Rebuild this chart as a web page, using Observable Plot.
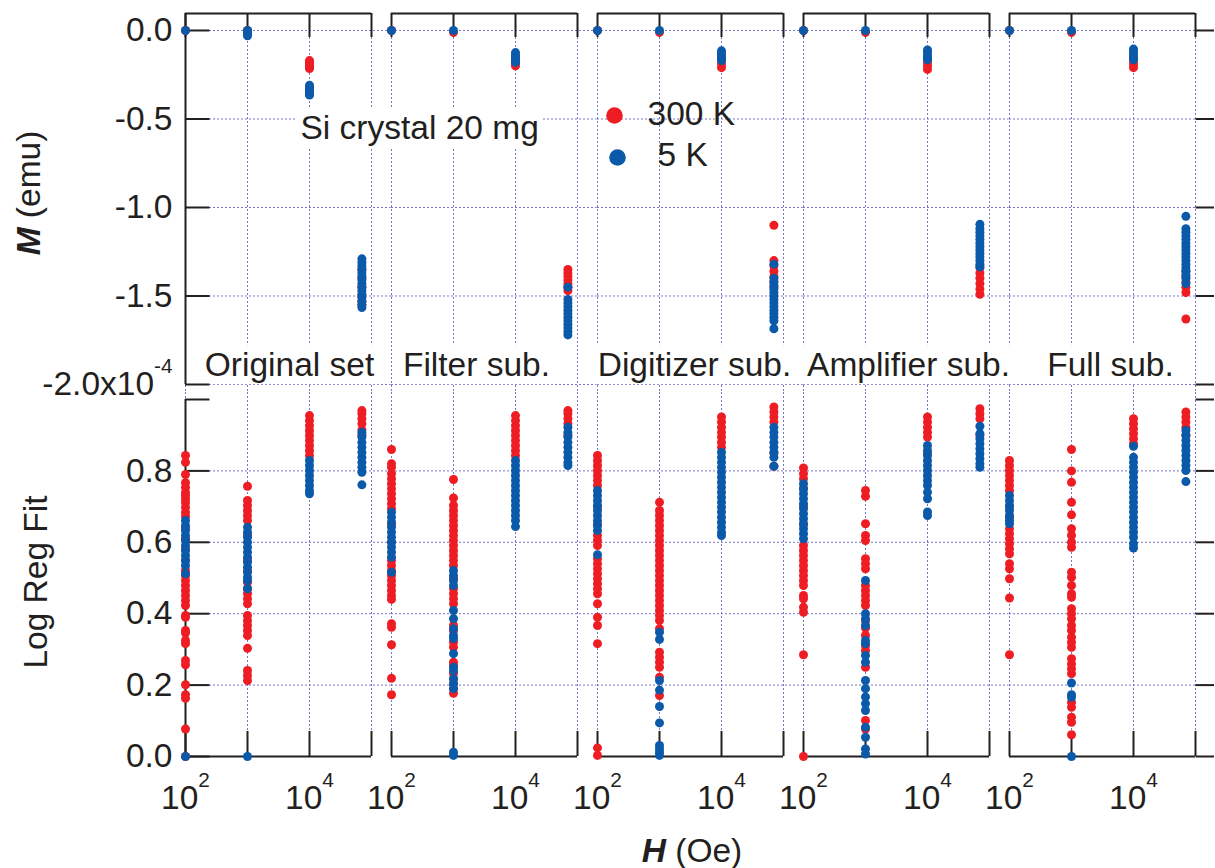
<!DOCTYPE html>
<html><head><meta charset="utf-8">
<script src="https://cdn.jsdelivr.net/npm/d3@7"></script>
<script src="https://cdn.jsdelivr.net/npm/@observablehq/plot@0.6"></script>
<style>
body{margin:0;background:#fff;}
#chart{position:relative;width:1215px;height:868px;font-family:'Liberation Sans',Arial,Helvetica,sans-serif;color:#231f20;}
#chart svg{position:absolute;left:0;}
.vt{position:absolute;font-size:33.5px;line-height:33.5px;white-space:nowrap;transform:translate(-50%,-50%) rotate(-90deg);}
.ht{position:absolute;font-size:33.5px;line-height:33.5px;white-space:nowrap;transform:translate(-50%,-50%);}
</style></head><body><div id="chart"></div>
<script>
// ---------- categories / ticks ----------
const methods = ["Original set", "Filter sub.", "Digitizer sub.", "Amplifier sub.", "Full sub."];
const fieldsOe = [100, 1000, 10000, 70000];
const temps = ["300 K", "5 K"];
const mTicks = [0, -0.5, -1.0, -1.5, -2.0];
const fitTicks = [0, 0.2, 0.4, 0.6, 0.8, 1.0];
const fitLabelTicks = [0, 0.2, 0.4, 0.6, 0.8];
const fitGridTicks = [0.2, 0.4, 0.6, 0.8];
const decades = [100, 1000, 10000, 100000];
const xLabelTicks = [100, 10000];

// ---------- M (x1e-4 emu), per field [100, 1000, 1e4, 7e4] ----------
const mOriginal300 = [[0], [0, -0.01, -0.02], [-0.17, -0.18, -0.19, -0.2, -0.21, -0.215], [-1.35, -1.4, -1.45, -1.5, -1.53, -1.55]];
const mOriginal5 = [[0], [0, -0.01, -0.02, -0.03], [-0.31, -0.32, -0.33, -0.34, -0.35, -0.36, -0.365], [-1.29, -1.31, -1.33, -1.35, -1.37, -1.39, -1.41, -1.43, -1.45, -1.47, -1.49, -1.51, -1.53, -1.55, -1.565]];
const mFilter300 = [[0], [-0.01], [-0.15, -0.17, -0.19, -0.2], [-1.35, -1.37, -1.39, -1.41, -1.43, -1.45, -1.47]];
const mFilter5 = [[0], [0], [-0.125, -0.14, -0.155, -0.17, -0.18], [-1.45, -1.52, -1.54, -1.56, -1.58, -1.6, -1.62, -1.64, -1.66, -1.68, -1.7, -1.72]];
const mDigitizer300 = [[0], [-0.01], [-0.15, -0.17, -0.19, -0.21], [-1.1, -1.3, -1.33, -1.36, -1.39, -1.42, -1.45]];
const mDigitizer5 = [[0], [0], [-0.115, -0.13, -0.145, -0.16, -0.17], [-1.32, -1.4, -1.42, -1.44, -1.46, -1.48, -1.5, -1.52, -1.54, -1.56, -1.58, -1.6, -1.62, -1.64, -1.685]];
const mAmplifier300 = [[0], [-0.01], [-0.16, -0.18, -0.2, -0.22], [-1.34, -1.37, -1.4, -1.43, -1.46, -1.49]];
const mAmplifier5 = [[0], [0], [-0.11, -0.125, -0.14, -0.155, -0.165], [-1.095, -1.12, -1.14, -1.16, -1.18, -1.2, -1.22, -1.24, -1.26, -1.28, -1.3, -1.32, -1.335]];
const mFull300 = [[0], [-0.01], [-0.15, -0.17, -0.19, -0.21], [-1.36, -1.39, -1.42, -1.45, -1.48, -1.63]];
const mFull5 = [[0], [0], [-0.105, -0.12, -0.135, -0.15, -0.165], [-1.05, -1.12, -1.14, -1.16, -1.18, -1.2, -1.22, -1.24, -1.26, -1.28, -1.3, -1.32, -1.34, -1.36, -1.38, -1.4, -1.43]];

// ---------- Log Reg Fit, per field [100, 1000, 1e4, 7e4] ----------
const fitOriginal300 = [
  [0, 0.077, 0.163, 0.173, 0.201, 0.257, 0.269, 0.316, 0.325, 0.346, 0.353, 0.39, 0.395, 0.423, 0.437, 0.451, 0.465, 0.479, 0.493, 0.507, 0.521, 0.55, 0.58, 0.61, 0.64, 0.673, 0.684, 0.698, 0.711, 0.722, 0.731, 0.74, 0.754, 0.767, 0.79, 0.824, 0.843],
  [0.213, 0.227, 0.241, 0.303, 0.339, 0.353, 0.367, 0.381, 0.395, 0.428, 0.442, 0.456, 0.47, 0.488, 0.52, 0.55, 0.62, 0.661, 0.675, 0.689, 0.703, 0.717, 0.757],
  [0.843, 0.857, 0.871, 0.885, 0.899, 0.913, 0.927, 0.941, 0.955],
  [0.9, 0.915, 0.932, 0.946, 0.96, 0.969]
];
const fitOriginal5 = [
  [0, 0.512, 0.535, 0.549, 0.563, 0.577, 0.591, 0.605, 0.619, 0.633, 0.647, 0.661],
  [0, 0.47, 0.493, 0.502, 0.516, 0.53, 0.544, 0.558, 0.572, 0.586, 0.6, 0.614, 0.628, 0.642],
  [0.736, 0.745, 0.759, 0.773, 0.787, 0.801, 0.815, 0.829],
  [0.761, 0.796, 0.81, 0.824, 0.838, 0.852, 0.866, 0.88, 0.895, 0.908]
];
const fitFilter300 = [
  [0.173, 0.219, 0.313, 0.362, 0.372, 0.44, 0.451, 0.465, 0.479, 0.493, 0.507, 0.521, 0.535, 0.549, 0.6, 0.65, 0.694, 0.708, 0.722, 0.736, 0.75, 0.764, 0.778, 0.792, 0.81, 0.82, 0.86],
  [0.177, 0.19, 0.204, 0.218, 0.233, 0.255, 0.264, 0.306, 0.32, 0.353, 0.367, 0.428, 0.442, 0.456, 0.47, 0.5, 0.535, 0.549, 0.563, 0.577, 0.591, 0.605, 0.619, 0.633, 0.647, 0.661, 0.675, 0.689, 0.703, 0.724, 0.776],
  [0.843, 0.857, 0.871, 0.885, 0.899, 0.913, 0.927, 0.941, 0.955],
  [0.9, 0.932, 0.946, 0.96, 0.969]
];
const fitFilter5 = [
  [0.516, 0.558, 0.572, 0.586, 0.6, 0.614, 0.628, 0.642, 0.656, 0.67, 0.684],
  [0.003, 0.012, 0.19, 0.204, 0.218, 0.241, 0.25, 0.288, 0.33, 0.339, 0.358, 0.386, 0.409, 0.479, 0.493, 0.507, 0.521],
  [0.644, 0.661, 0.675, 0.689, 0.703, 0.717, 0.731, 0.745, 0.759, 0.773, 0.787, 0.801, 0.815, 0.829],
  [0.815, 0.824, 0.838, 0.852, 0.866, 0.88, 0.895, 0.908, 0.922]
];
const fitDigitizer300 = [
  [0.003, 0.024, 0.316, 0.367, 0.39, 0.428, 0.456, 0.47, 0.484, 0.498, 0.512, 0.526, 0.54, 0.554, 0.591, 0.605, 0.619, 0.65, 0.7, 0.759, 0.773, 0.787, 0.801, 0.815, 0.829, 0.843],
  [0.171, 0.222, 0.25, 0.264, 0.278, 0.292, 0.358, 0.381, 0.395, 0.409, 0.423, 0.437, 0.451, 0.465, 0.479, 0.493, 0.507, 0.521, 0.535, 0.549, 0.563, 0.577, 0.591, 0.605, 0.619, 0.633, 0.647, 0.661, 0.675, 0.689, 0.712],
  [0.866, 0.88, 0.895, 0.908, 0.922, 0.937, 0.951],
  [0.813, 0.85, 0.937, 0.951, 0.965, 0.979]
];
const fitDigitizer5 = [
  [0.565, 0.633, 0.647, 0.661, 0.675, 0.689, 0.703, 0.717, 0.731, 0.745],
  [0.003, 0.012, 0.021, 0.031, 0.094, 0.14, 0.186, 0.213, 0.328, 0.348],
  [0.619, 0.628, 0.642, 0.656, 0.67, 0.685, 0.698, 0.712, 0.726, 0.74, 0.754, 0.768, 0.782, 0.796, 0.81, 0.824, 0.838, 0.852],
  [0.813, 0.838, 0.852, 0.866, 0.88, 0.895, 0.908, 0.922]
];
const fitAmplifier300 = [
  [0, 0.285, 0.404, 0.418, 0.442, 0.451, 0.479, 0.493, 0.507, 0.521, 0.535, 0.549, 0.563, 0.577, 0.591, 0.65, 0.7, 0.75, 0.778, 0.792, 0.808],
  [0.077, 0.101, 0.25, 0.297, 0.311, 0.339, 0.36, 0.38, 0.423, 0.437, 0.451, 0.465, 0.479, 0.526, 0.54, 0.554, 0.605, 0.619, 0.652, 0.729, 0.745],
  [0.85, 0.895, 0.908, 0.922, 0.937, 0.951],
  [0.9, 0.946, 0.96, 0.974]
];
const fitAmplifier5 = [
  [0.61, 0.624, 0.638, 0.652, 0.666, 0.68, 0.694, 0.708, 0.722, 0.736, 0.75, 0.764],
  [0.007, 0.021, 0.054, 0.082, 0.129, 0.148, 0.167, 0.19, 0.213, 0.264, 0.283, 0.316, 0.325, 0.367, 0.386, 0.4, 0.493],
  [0.675, 0.685, 0.722, 0.74, 0.759, 0.773, 0.787, 0.801, 0.815, 0.829, 0.843, 0.857, 0.871],
  [0.81, 0.82, 0.834, 0.848, 0.862, 0.876, 0.89, 0.904, 0.925]
];
const fitFull300 = [
  [0.285, 0.444, 0.498, 0.526, 0.54, 0.568, 0.582, 0.596, 0.61, 0.624, 0.638, 0.67, 0.7, 0.745, 0.759, 0.773, 0.787, 0.801, 0.815, 0.829],
  [0.061, 0.096, 0.11, 0.138, 0.152, 0.232, 0.246, 0.259, 0.274, 0.306, 0.32, 0.334, 0.353, 0.367, 0.386, 0.4, 0.414, 0.446, 0.456, 0.479, 0.502, 0.516, 0.586, 0.6, 0.619, 0.638, 0.677, 0.712, 0.768, 0.8, 0.86],
  [0.876, 0.89, 0.904, 0.918, 0.932, 0.946],
  [0.9, 0.922, 0.937, 0.951, 0.965]
];
const fitFull5 = [
  [0.652, 0.661, 0.675, 0.689, 0.703, 0.717, 0.731],
  [0, 0.166, 0.173, 0.206],
  [0.584, 0.596, 0.614, 0.628, 0.642, 0.656, 0.67, 0.685, 0.698, 0.712, 0.726, 0.74, 0.754, 0.768, 0.782, 0.796, 0.81, 0.824, 0.838, 0.869],
  [0.77, 0.801, 0.815, 0.829, 0.843, 0.857, 0.871, 0.885, 0.899, 0.913]
];

// ---------- build tables (all 300 K rows first, so 5 K is drawn on top) ----------
function buildRows(sets) {
  const rows = [];
  temps.forEach((t, ti) => methods.forEach((m, mi) =>
    sets[ti][mi].forEach((vals, fi) => vals.forEach(v =>
      rows.push({method: m, temp: t, H: fieldsOe[fi], value: v})))));
  return rows;
}
const mRows = buildRows([
  [mOriginal300, mFilter300, mDigitizer300, mAmplifier300, mFull300],
  [mOriginal5, mFilter5, mDigitizer5, mAmplifier5, mFull5]]);
const fitRows = buildRows([
  [fitOriginal300, fitFilter300, fitDigitizer300, fitAmplifier300, fitFull300],
  [fitOriginal5, fitFilter5, fitDigitizer5, fitAmplifier5, fitFull5]]);

// ---------- layout ----------
const W = 1215, ML = 185, MR = 19, PAD = 0.095;
const innerW = W - ML - MR;
const step = innerW / (methods.length - PAD);
const bw = step * (1 - PAD), gap = step * PAD;
const H1 = 392, MT1 = 13, innerH1 = H1 - MT1;
const H2 = 476, MB2 = 112, innerH2 = H2 - MB2;
const yDom1 = [-2.0452, 0.096];
const yDom2 = [0, 1.0196];
const ink = "#231f20", gridC = "#7676c8";
const red = "#ee1d24", blue = "#0b5aaa";
const R = 4.5;
const titleDx = [11, -8, 4, 12, 8];
const grid = {stroke: gridC, strokeWidth: 1, strokeDasharray: "2,2"};
const axisS = {stroke: ink, strokeWidth: 2};
const first = () => methods[0], last = () => methods[methods.length - 1];
const style = {fontFamily: "'Liberation Sans', Arial, Helvetica, sans-serif", fontSize: "33.5px", color: ink, background: "transparent", overflow: "visible"};
const colorOpt = {domain: temps, range: [red, blue]};
const fxOpt = {domain: methods, paddingInner: PAD, paddingOuter: 0, axis: null};
const gridRowsFor = (ticks) => methods.slice(0, -1).flatMap(m => ticks.map(v => ({m, v})));

const topPlot = Plot.plot({
  width: W, height: H1, marginLeft: ML, marginRight: MR, marginTop: MT1, marginBottom: 0,
  style, fx: fxOpt,
  x: {type: "log", domain: [100, 100000], axis: null},
  y: {domain: yDom1},
  color: colorOpt,
  marks: [
    Plot.ruleX(decades, {x: d => d, ...grid}),
    Plot.ruleY(gridRowsFor(mTicks), {fx: "m", y: "v", ...grid, insetRight: -gap}),
    Plot.ruleY(mTicks, {fx: last, y: d => d, ...grid}),
    ...methods.map((m, i) => Plot.text([m], {fx: d => d, text: d => d, frameAnchor: "bottom", dx: titleDx[i], dy: -27, lineAnchor: "middle", fill: ink})),
    Plot.text(["Si crystal 20 mg"], {fx: first, text: d => d, frameAnchor: "top-left", dx: 115, dy: 115, textAnchor: "start", lineAnchor: "middle", fill: ink}),
    Plot.ruleY([yDom1[1]], {...axisS}),
    Plot.ruleX([100], {fx: first, y1: -2, y2: yDom1[1], ...axisS}),
    Plot.tickX(decades, {x: d => d, insetBottom: innerH1 - 24, ...axisS}),
    Plot.tickY(mTicks, {fx: first, y: d => d, insetRight: bw - 25, ...axisS}),
    Plot.tickY(mTicks, {fx: last, y: d => d, insetLeft: bw, insetRight: -MR, ...axisS}),
    Plot.axisY({ticks: mTicks, tickSize: 0, tickPadding: 13, label: null,
      tickFormat: d => d === -2 ? "-2.0x10^-4" : d.toFixed(1)}),
    Plot.dot(mRows, {fx: "method", x: "H", y: "value", fill: "temp", r: R}),
    // legend
    Plot.dot([temps[0]], {fx: () => methods[2], fill: d => d, r: 8.3, frameAnchor: "top-left", dx: 17, dy: 102}),
    Plot.dot([temps[1]], {fx: () => methods[2], fill: d => d, r: 8.3, frameAnchor: "top-left", dx: 20, dy: 144}),
    Plot.text([temps[0]], {fx: () => methods[2], text: d => d, frameAnchor: "top-left", dx: 50, dy: 101, textAnchor: "start", lineAnchor: "middle", fill: ink}),
    Plot.text([temps[1]], {fx: () => methods[2], text: d => d, frameAnchor: "top-left", dx: 60, dy: 142, textAnchor: "start", lineAnchor: "middle", fill: ink})
  ]
});

const botPlot = Plot.plot({
  width: W, height: H2, marginLeft: ML, marginRight: MR, marginTop: 0, marginBottom: MB2,
  style, fx: fxOpt,
  x: {type: "log", domain: [100, 100000]},
  y: {domain: yDom2},
  color: colorOpt,
  marks: [
    Plot.ruleX(decades, {x: d => d, ...grid}),
    Plot.ruleY(gridRowsFor(fitGridTicks), {fx: "m", y: "v", ...grid, insetRight: -gap}),
    Plot.ruleY(fitGridTicks, {fx: last, y: d => d, ...grid}),
    Plot.ruleY([0], {...axisS}),
    Plot.ruleX([100], {fx: first, y1: 0, y2: 1, ...axisS}),
    Plot.tickX(decades, {x: d => d, insetTop: innerH2 - 25, ...axisS}),
    Plot.tickY(fitTicks, {fx: first, y: d => d, insetRight: bw - 25, ...axisS}),
    Plot.tickY(fitTicks, {fx: last, y: d => d, insetLeft: bw, insetRight: -MR, ...axisS}),
    Plot.axisY({ticks: fitLabelTicks, tickSize: 0, tickPadding: 13, label: null, tickFormat: d => d.toFixed(1)}),
    Plot.axisX({ticks: xLabelTicks, tickSize: 0, tickPadding: 29, label: null,
      tickFormat: d => "10^" + Math.round(Math.log10(d))}),
    Plot.dot(fitRows, {fx: "method", x: "H", y: "value", fill: "temp", r: R})
  ]
});

const chart = document.getElementById("chart");
topPlot.style.top = "0px";
botPlot.style.top = H1 + "px";
chart.appendChild(topPlot);
chart.appendChild(botPlot);

// superscripts for "10^n"
const NS = "http://www.w3.org/2000/svg";
for (const svg of [topPlot, botPlot]) {
  svg.querySelectorAll("text").forEach(t => {
    const s = t.textContent, i = s.indexOf("^");
    if (i < 0 || t.querySelector("tspan")) return;
    t.textContent = s.slice(0, i);
    const ts = document.createElementNS(NS, "tspan");
    ts.setAttribute("font-size", "0.62em");
    ts.setAttribute("dy", "-1.05em");
    ts.textContent = s.slice(i + 1);
    t.appendChild(ts);
  });
}
// white boxes behind annotation labels (they mask the grid like the original)
const boxed = new Set([...methods, "Si crystal 20 mg"]);
topPlot.querySelectorAll("text").forEach(t => {
  if (!boxed.has(t.textContent)) return;
  const b = t.getBBox();
  const r = document.createElementNS(NS, "rect");
  r.setAttribute("x", b.x - 4); r.setAttribute("y", b.y - 1);
  r.setAttribute("width", b.width + 8); r.setAttribute("height", b.height + 2);
  r.setAttribute("fill", "white");
  if (t.getAttribute("transform")) r.setAttribute("transform", t.getAttribute("transform"));
  t.parentNode.insertBefore(r, t);
});

// axis titles
chart.insertAdjacentHTML("beforeend",
  '<div class="vt" style="left:29px;top:193px"><b><i>M</i></b> (emu)</div>' +
  '<div class="vt" style="left:36px;top:582px">Log Reg Fit</div>' +
  '<div class="ht" style="left:692px;top:851px"><b><i>H</i></b> (Oe)</div>');
</script></body></html>
